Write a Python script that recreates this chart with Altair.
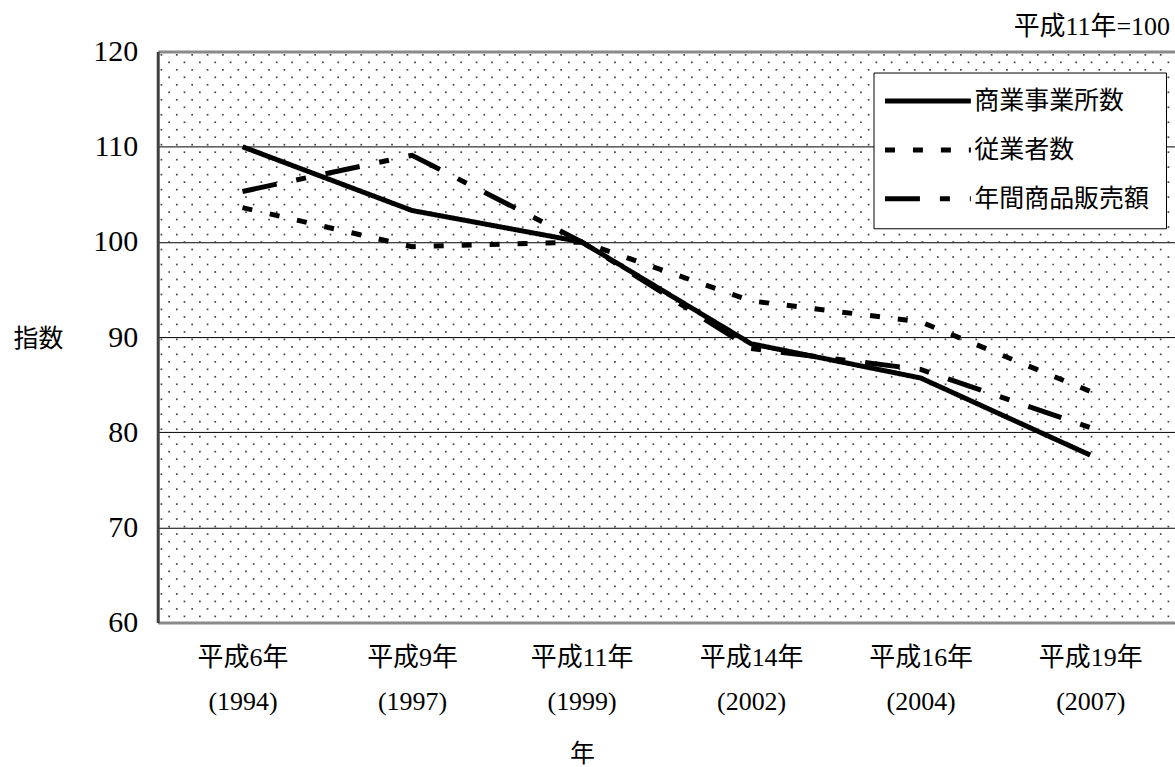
import altair as alt
import numpy as np
import pandas as pd

# 指数（平成11年=100）
eras = ["平成6年", "平成9年", "平成11年", "平成14年", "平成16年", "平成19年"]
years = ["(1994)", "(1997)", "(1999)", "(2002)", "(2004)", "(2007)"]
series_names = ["商業事業所数", "従業者数", "年間商品販売額"]
establishments = [110.0, 103.3, 100.0, 89.3, 85.7, 77.6]
employees = [103.6, 99.5, 100.0, 93.8, 91.6, 84.3]
sales = [105.3, 109.1, 100.0, 88.8, 86.6, 80.5]

FONT = "Liberation Serif, Noto Sans CJK JP"
W, H = 1019, 572

categories = [f"{e}|{y}" for e, y in zip(eras, years)]
rows = []
for name, vals in zip(series_names, [establishments, employees, sales]):
    for c, v in zip(categories, vals):
        rows.append({"period": c, "series": name, "index": v})
df = pd.DataFrame(rows)

# stippled background texture for the plotting area (pixel units)
gx, gy = 15.4, 7.5
pts = []
for j in range(int(H / gy) + 1):
    y = 3.3 + j * gy
    off = (j % 2) * gx / 2
    for i in range(int(W / gx) + 1):
        x = 3.7 + off + i * gx
        if x < W and y < H:
            pts.append({"px": x, "py": y})
dots = pd.DataFrame(pts)

texture = alt.Chart(dots).mark_square(size=3, color="#333333", opacity=0.9).encode(
    x=alt.X("px:Q", scale=alt.Scale(domain=[0, W], nice=False, zero=False), axis=None),
    y=alt.Y("py:Q", scale=alt.Scale(domain=[0, H], nice=False, reverse=True), axis=None),
)

edge_test = "datum.value === 60 || datum.value === 120"

lines = alt.Chart(df).mark_line(color="black", strokeWidth=5, strokeCap="butt").encode(
    x=alt.X(
        "period:N",
        sort=categories,
        scale=alt.Scale(paddingInner=0, paddingOuter=0),
        axis=alt.Axis(
            title="年",
            labelExpr="split(datum.label, '|')",
            labelAngle=0,
            labelFont=FONT,
            labelFontSize=26,
            labelLineHeight=44,
            labelPadding=22,
            labelColor="black",
            domain=False,
            ticks=False,
            titleFont=FONT,
            titleFontSize=25,
            titleFontWeight="normal",
            titleColor="black",
            titleX=425,
            titleY=131,
            titleAlign="center",
            titleBaseline="middle",
        ),
    ),
    y=alt.Y(
        "index:Q",
        scale=alt.Scale(domain=[60, 120], nice=False, zero=False),
        axis=alt.Axis(
            title="指数",
            values=[60, 70, 80, 90, 100, 110, 120],
            titleAngle=0,
            titleX=-120,
            titleY=287,
            titleAlign="center",
            titleBaseline="middle",
            titleFont=FONT,
            titleFontSize=25,
            titleFontWeight="normal",
            titleColor="black",
            labelFont=FONT,
            labelFontSize=30,
            labelPadding=20,
            labelColor="black",
            ticks=False,
            domainColor="#404040",
            domainWidth=3,
            grid=True,
            gridColor={"condition": {"test": edge_test, "value": "#8a8a8a"}, "value": "black"},
            gridWidth={"condition": {"test": edge_test, "value": 3}, "value": 1},
            gridOpacity=1,
        ),
    ),
    strokeDash=alt.StrokeDash(
        "series:N",
        scale=alt.Scale(domain=series_names, range=[[1, 0], [10, 18], [35, 20, 10, 20]]),
        legend=alt.Legend(
            title=None,
            orient="none",
            legendX=717,
            legendY=21,
            direction="vertical",
            fillColor="white",
            strokeColor="black",
            padding=16,
            symbolType="M-4.3,0H4.3",
            symbolSize=400,
            symbolStrokeWidth=5,
            symbolStrokeColor="black",
            symbolOffset=26,
            labelFont=FONT,
            labelFontSize=25,
            labelColor="black",
            labelOffset=34,
            labelLimit=400,
            rowPadding=23,
        ),
    ),
)

chart = (
    alt.layer(texture, lines)
    .resolve_scale(x="independent", y="independent")
    .properties(
        width=W,
        height=H,
        autosize=alt.AutoSizeParams(type="none"),
        padding={"left": 158, "top": 51, "right": 0, "bottom": 144},
        title=alt.TitleParams(
            "平成11年=100",
            anchor="end",
            frame="group",
            font=FONT,
            fontSize=26,
            fontWeight="normal",
            color="black",
            offset=1,
            dx=-5,
            dy=4,
        ),
    )
    .configure_view(stroke=None)
    .configure(background="white")
)

chart.save("out.html", embed_options={"renderer": "svg", "actions": False})
